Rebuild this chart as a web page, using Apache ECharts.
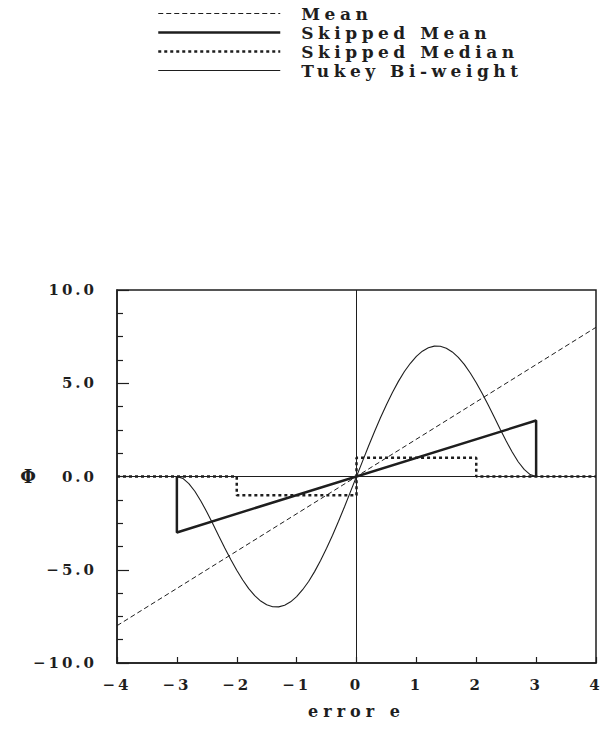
<!DOCTYPE html>
<html>
<head>
<meta charset="utf-8">
<script src="https://cdn.jsdelivr.net/npm/echarts@6/dist/echarts.min.js"></script>
<style>
html, body { margin: 0; padding: 0; background: #fff; }
#chart { width: 615px; height: 732px; }
#chart text { letter-spacing: 3px; }
#chart text[style*="17px"] { letter-spacing: 4.5px; }
#chart text[style*="16px"] { letter-spacing: 5px; }
</style>
</head>
<body>
<div id="chart"></div>
<script>
// ---- data ----
var seriesNames = ['Mean', 'Skipped Mean', 'Skipped Median', 'Tukey Bi-weight'];
var xTicks = [-4, -3, -2, -1, 0, 1, 2, 3, 4];
var yTicks = [-10, -5, 0, 5, 10];

var meanX = [-4, 4];
var meanY = [-8, 8];

var skMeanX = [-3, -3, 3, 3];
var skMeanY = [0, -3, 3, 0];

var skMedX = [-4, -2, -2, 0, 0, 2, 2, 4];
var skMedY = [0, 0, -1, -1, 1, 1, 0, 0];

var tukeyX = [-3, -2.9, -2.8, -2.7, -2.6, -2.5, -2.4, -2.3, -2.2, -2.1, -2, -1.9, -1.8, -1.7, -1.6,
              -1.5, -1.4, -1.3, -1.2, -1.1, -1, -0.9, -0.8, -0.7, -0.6, -0.5, -0.4, -0.3, -0.2, -0.1, 0,
              0.1, 0.2, 0.3, 0.4, 0.5, 0.6, 0.7, 0.8, 0.9, 1, 1.1, 1.2, 1.3, 1.4, 1.5,
              1.6, 1.7, 1.8, 1.9, 2, 2.1, 2.2, 2.3, 2.4, 2.5, 2.6, 2.7, 2.8, 2.9, 3];
var tukeyY = [0, -0.10, -0.38, -0.79, -1.31, -1.90, -2.53, -3.19, -3.83, -4.45, -5.03, -5.55, -6.01, -6.39, -6.68,
              -6.88, -6.98, -6.99, -6.90, -6.72, -6.44, -6.07, -5.63, -5.10, -4.51, -3.85, -3.15, -2.40, -1.62, -0.81, 0,
              0.81, 1.62, 2.40, 3.15, 3.85, 4.51, 5.10, 5.63, 6.07, 6.44, 6.72, 6.90, 6.99, 6.98, 6.88,
              6.68, 6.39, 6.01, 5.55, 5.03, 4.45, 3.83, 3.19, 2.53, 1.90, 1.31, 0.79, 0.38, 0.10, 0];

function pairs(xs, ys) { return xs.map(function (x, i) { return [x, ys[i]]; }); }

var FONT = 'DejaVu Serif';
var INK = '#1e1e1e';

var styles = [
  { color: INK, width: 1, type: [5, 3] },
  { color: INK, width: 2.5, type: 'solid' },
  { color: INK, width: 2.5, type: [3, 3] },
  { color: INK, width: 1.1, type: 'solid' }
];

var chart = echarts.init(document.getElementById('chart'), null, { renderer: 'svg' });

function fmtNum(v, d) {
  var s = Math.abs(v).toFixed(d);
  return (v < 0 ? '\u2212' : '') + s;
}

var option = {
  backgroundColor: '#fff',
  animation: false,
  legend: {
    orient: 'vertical',
    left: 152,
    top: 0,
    itemWidth: 122,
    itemHeight: 14,
    itemGap: 2,
    itemStyle: { opacity: 0 },
    textStyle: { fontFamily: FONT, fontWeight: 'bold', fontSize: 17, color: INK, padding: [0, 0, 0, 16] },
    data: seriesNames.map(function (n, i) { return { name: n, lineStyle: styles[i] }; })
  },
  grid: {
    left: 117, right: 19, top: 290, bottom: 69,
    show: true, borderColor: INK, borderWidth: 1.5, backgroundColor: 'transparent'
  },
  xAxis: {
    type: 'value', min: -4, max: 4, interval: 1,
    name: 'error e', nameLocation: 'middle', nameGap: 40,
    nameTextStyle: { fontFamily: FONT, fontWeight: 'bold', fontSize: 16, color: INK },
    axisLine: { show: true, onZero: false, lineStyle: { color: INK, width: 1.5 } },
    axisTick: { show: true, inside: true, length: 6, lineStyle: { color: INK, width: 1.2 } },
    axisLabel: {
      margin: 14, fontFamily: FONT, fontWeight: 'bold', fontSize: 15, color: INK,
      formatter: function (v) { return fmtNum(v, 0); }
    },
    splitLine: { show: false }
  },
  yAxis: {
    type: 'value', min: -10, max: 10, interval: 5,
    name: '\u03A6', nameLocation: 'middle', nameRotate: 0, nameGap: 78,
    nameTextStyle: { fontFamily: FONT, fontWeight: 'bold', fontSize: 18, color: INK },
    axisLine: { show: true, onZero: false, lineStyle: { color: INK, width: 1.5 } },
    axisTick: { show: true, inside: true, length: 12, lineStyle: { color: INK, width: 1.2 } },
    minorTick: { show: true, splitNumber: 4, length: 6, lineStyle: { color: INK, width: 1.2 } },
    axisLabel: {
      margin: 20, fontFamily: FONT, fontWeight: 'bold', fontSize: 15, color: INK,
      formatter: function (v) { return fmtNum(v, 1); }
    },
    splitLine: { show: false }
  },
  series: [
    {
      name: seriesNames[0], type: 'line', data: pairs(meanX, meanY),
      symbol: 'none', lineStyle: styles[0],
      markLine: {
        silent: true, symbol: 'none', label: { show: false },
        lineStyle: { color: INK, width: 1, type: 'solid' },
        data: [{ yAxis: 0 }, { xAxis: 0 }]
      }
    },
    {
      name: seriesNames[1], type: 'line', data: pairs(skMeanX, skMeanY),
      symbol: 'none', lineStyle: styles[1]
    },
    {
      name: seriesNames[2], type: 'line', data: pairs(skMedX, skMedY),
      symbol: 'none', lineStyle: styles[2]
    },
    {
      name: seriesNames[3], type: 'line', data: pairs(tukeyX, tukeyY),
      symbol: 'none', smooth: false, lineStyle: styles[3]
    }
  ]
};
chart.setOption(option);
</script>
</body>
</html>
